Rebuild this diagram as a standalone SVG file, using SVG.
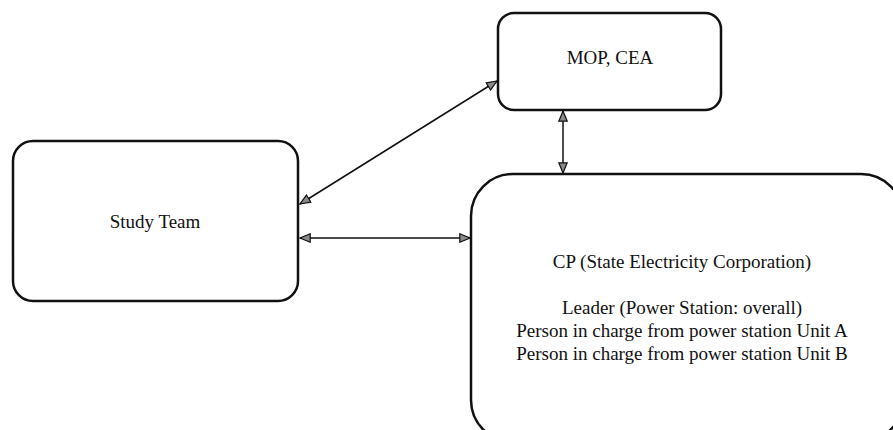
<svg xmlns="http://www.w3.org/2000/svg" width="893" height="430" viewBox="0 0 893 430">
<style>
.box{fill:#fff;stroke:#111;stroke-width:2.5}
.lbl{font-family:'Liberation Serif','Times New Roman','DejaVu Serif',serif;font-size:19px;fill:#111;text-anchor:middle}
.conn{stroke:#111;stroke-width:1.5;fill:none;marker-start:url(#ah);marker-end:url(#ah)}
</style>
<defs>
<marker id="ah" viewBox="0 0 12 10" refX="11" refY="5" markerWidth="12" markerHeight="10" markerUnits="userSpaceOnUse" orient="auto-start-reverse">
<path d="M0.8,0.8 L11,5 L0.8,9.2 Z" fill="#8a8a8a" stroke="#111" stroke-width="1.2"/>
</marker>
</defs>
<rect width="893" height="430" fill="#fff"/>
<g id="connectors">
<line class="conn" x1="300" y1="204" x2="497" y2="81"/>
<line class="conn" x1="300" y1="238" x2="470" y2="238"/>
<line class="conn" x1="563" y1="111" x2="563" y2="173"/>
</g>
<g id="study-team">
<rect class="box" x="13" y="141" width="285" height="160" rx="20"/>
<text class="lbl" x="155" y="228" font-family="Liberation Serif, serif">Study Team</text>
</g>
<g id="mop-cea">
<rect class="box" x="498" y="13" width="223" height="97" rx="16"/>
<text class="lbl" x="610" y="64" font-family="Liberation Serif, serif">MOP, CEA</text>
</g>
<g id="cp">
<rect class="box" x="471" y="174" width="432" height="268" rx="42"/>
<text class="lbl" x="682" y="268" font-family="Liberation Serif, serif">CP (State Electricity Corporation)</text>
<text class="lbl" x="682" y="314" font-family="Liberation Serif, serif">Leader (Power Station: overall)</text>
<text class="lbl" x="682" y="337" font-family="Liberation Serif, serif">Person in charge from power station Unit A</text>
<text class="lbl" x="682" y="360" font-family="Liberation Serif, serif">Person in charge from power station Unit B</text>
</g>
</svg>
